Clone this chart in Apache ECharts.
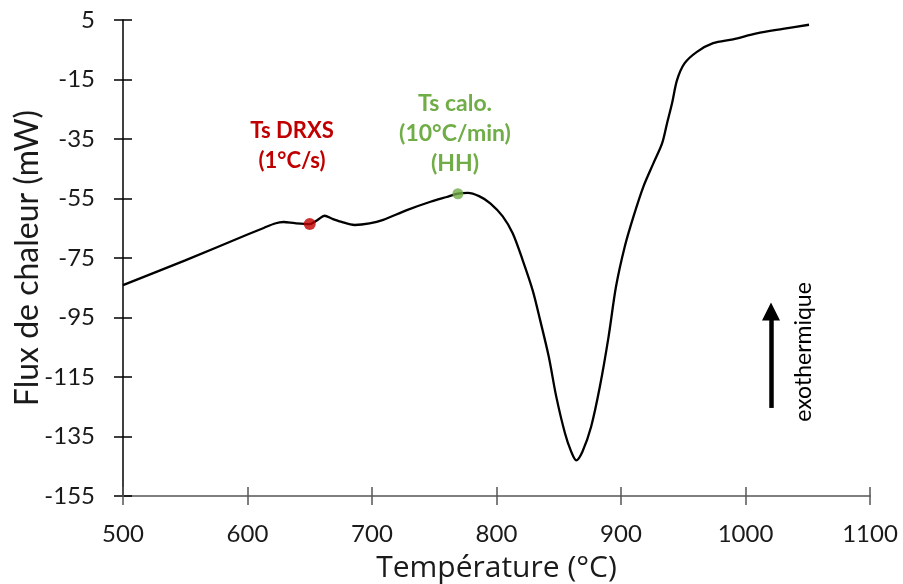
<!DOCTYPE html>
<html>
<head>
<meta charset="utf-8">
<script src="https://cdn.jsdelivr.net/npm/echarts@6/dist/echarts.min.js"></script>
<style>html,body{margin:0;padding:0;background:#fff}#c{width:903px;height:584px}</style>
</head>
<body>
<div id="c"></div>
<script>
// Temperature (°C)
const temperature = [500, 550, 600, 613, 622, 629, 638, 650, 656, 662, 668, 675, 686, 698, 709, 728, 747, 760, 769, 777, 786, 795, 805, 813, 821, 829, 835, 842, 848, 855, 860, 864, 869, 876, 883, 890, 896, 903, 910, 918, 926, 933, 937, 941, 945, 951, 961, 974, 990, 1009, 1030, 1051];
// Heat flow (mW)
const heatFlow = [-84.1, -75.8, -67.1, -64.9, -63.4, -62.9, -63.3, -63.6, -62.3, -60.8, -61.8, -62.8, -63.9, -63.4, -62.2, -58.9, -56.1, -54.5, -53.4, -53.1, -54.2, -56.6, -61.0, -66.7, -75.7, -85.8, -95.8, -108.2, -121.6, -133.9, -140.1, -143.0, -140.1, -131.7, -118.3, -101.5, -84.6, -71.2, -61.1, -51.0, -43.2, -36.5, -29.7, -23.0, -15.2, -9.6, -5.7, -2.8, -1.5, 0.5, 2.0, 3.4];
// Marked points
const pointDRXS = [650, -63.6];
const pointCalo = [769, -53.4];
// Arrow (exothermic direction)
const arrowStart = [1020.5, -125.4];
const arrowEnd = [1020.5, -93];
// Axis ticks
const yTicks = [-155, -135, -115, -95, -75, -55, -35, -15, 5];
const xMin = 500, xMax = 1100, xStep = 100;

const FONT = 'Lato, "Open Sans", sans-serif';
const chart = echarts.init(document.getElementById('c'), null, {renderer: 'canvas'});
const series = temperature.map((t, i) => [t, heatFlow[i]]);

chart.setOption({
  animation: false,
  backgroundColor: '#fff',
  grid: {left: 123, right: 33, top: 20, bottom: 88, containLabel: false, outerBoundsMode: 'none'},
  xAxis: [{
    type: 'value', min: xMin, max: xMax, interval: xStep,
    name: 'Température (°C)', nameLocation: 'middle', nameGap: 57, nameMoveOverlap: false,
    nameTextStyle: {fontFamily: '"Open Sans", Lato, sans-serif', fontSize: 30, color: '#1a1a1a'},
    axisLine: {show: true, onZero: false, lineStyle: {color: '#555', width: 1.5}},
    axisTick: {show: true, inside: false, length: 9, lineStyle: {color: '#555', width: 1.5}},
    axisLabel: {fontFamily: FONT, fontSize: 24, color: '#1a1a1a', margin: 26, formatter: v => String(v)},
    splitLine: {show: false}
  }, {
    type: 'value', min: xMin, max: xMax, interval: xStep, position: 'bottom',
    axisLine: {show: false, onZero: false},
    axisTick: {show: true, inside: true, length: 9, lineStyle: {color: '#555', width: 1.5}},
    axisLabel: {show: false}, splitLine: {show: false}
  }],
  yAxis: [{
    type: 'value', min: -155, max: 5,
    name: 'Flux de chaleur (mW)', nameLocation: 'middle', nameGap: 79, nameMoveOverlap: false,
    nameTextStyle: {fontFamily: FONT, fontSize: 32, color: '#1a1a1a'},
    axisLine: {show: true, onZero: false, lineStyle: {color: '#000', width: 1.5}},
    axisTick: {show: true, inside: false, length: 9, customValues: yTicks, lineStyle: {color: '#000', width: 1.5}},
    axisLabel: {fontFamily: FONT, fontSize: 24, color: '#1a1a1a', margin: 28, customValues: yTicks},
    splitLine: {show: false}
  }, {
    type: 'value', min: -155, max: 5, position: 'left',
    axisLine: {show: false, onZero: false},
    axisTick: {show: true, inside: true, length: 9, customValues: yTicks, lineStyle: {color: '#000', width: 1.5}},
    axisLabel: {show: false, customValues: yTicks}, splitLine: {show: false}
  }],
  series: [{
    type: 'line', data: series, xAxisIndex: 0, yAxisIndex: 0,
    smooth: 0.3, showSymbol: false, symbol: 'none',
    lineStyle: {color: '#000', width: 2.3},
    markLine: {
      silent: true, symbol: ['none', 'triangle'], symbolSize: 18,
      label: {show: false},
      lineStyle: {color: '#000', width: 4.5, type: 'solid'},
      data: [[{coord: arrowStart}, {coord: arrowEnd}]]
    }
  }, {
    type: 'scatter', data: [pointDRXS], symbolSize: 12,
    itemStyle: {color: '#c00000'}, z: 5
  }, {
    type: 'scatter', data: [pointCalo], symbolSize: 11,
    itemStyle: {color: '#70ad47'}, z: 5
  }],
  graphic: [
    {type: 'text', x: 292, y: 146, style: {
      text: 'Ts DRXS\n(1°C/s)', fill: '#c00000', font: 'bold 22px ' + FONT,
      align: 'center', verticalAlign: 'middle', lineHeight: 30}},
    {type: 'text', x: 455, y: 134, style: {
      text: 'Ts calo.\n(10°C/min)\n(HH)', fill: '#70ad47', font: 'bold 23px ' + FONT,
      align: 'center', verticalAlign: 'middle', lineHeight: 30}},
    {type: 'text', x: 804, y: 352, rotation: Math.PI / 2, style: {
      text: 'exothermique', fill: '#000', font: '23px ' + FONT,
      align: 'center', verticalAlign: 'middle'}}
  ]
});
</script>
</body>
</html>
